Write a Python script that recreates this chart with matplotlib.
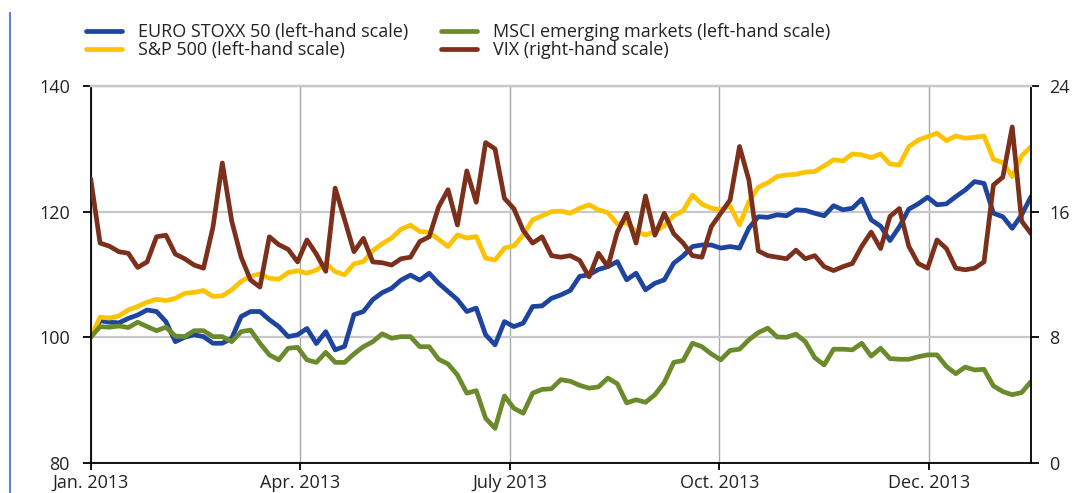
import numpy as np
import matplotlib.pyplot as plt
from matplotlib.lines import Line2D

plt.rcParams['font.family'] = ['Open Sans', 'DejaVu Sans']

# index values (1 Jan. 2013 = 100), sampled roughly every 3 trading days
euro_stoxx = [100.0, 102.65, 102.4, 102.3, 103.0, 103.55, 104.35, 104.1, 102.5, 99.3,
              100.0, 100.4, 100.1, 99.05, 99.05, 99.85, 103.3, 104.1, 104.1, 102.8,
              101.7, 100.1, 100.4, 101.4, 99.0, 100.9, 98.0, 98.55, 103.6, 104.1,
              106.0, 107.1, 107.8, 109.1, 109.9, 109.1, 110.2, 108.6, 107.3, 106.0,
              104.1, 104.65, 100.4, 98.8, 102.5, 101.7, 102.25, 104.9, 105.0, 106.2,
              106.75, 107.45, 109.7, 109.95, 110.8, 111.25, 112.05, 109.15, 110.2, 107.55,
              108.6, 109.15, 111.8, 112.95, 114.45, 114.7, 114.7, 114.2, 114.45, 114.2,
              117.4, 119.2, 119.1, 119.5, 119.35, 120.3, 120.2, 119.75, 119.35, 120.95,
              120.3, 120.55, 122.0, 118.7, 117.7, 115.4, 117.6, 120.4, 121.25, 122.3,
              121.1, 121.25, 122.4, 123.45, 124.8, 124.5, 119.75, 119.2, 117.35, 119.5,
              122.4]
sp500 = [100.0, 103.2, 103.05, 103.4, 104.35, 104.9, 105.6, 106.05, 105.85, 106.2,
         107.0, 107.15, 107.45, 106.5, 106.6, 107.55, 108.9, 109.7, 110.1, 109.4,
         109.25, 110.3, 110.6, 110.2, 110.7, 111.8, 110.45, 109.95, 111.7, 112.05,
         113.8, 114.9, 115.8, 117.2, 117.85, 116.85, 116.7, 115.6, 114.45, 116.3,
         115.8, 116.05, 112.6, 112.3, 114.2, 114.55, 116.3, 118.7, 119.35, 120.0,
         120.1, 119.75, 120.55, 121.1, 120.3, 119.85, 118.05, 118.25, 116.85, 116.3,
         116.85, 117.75, 119.35, 120.15, 122.65, 121.2, 120.55, 120.3, 120.9, 117.9,
         121.6, 123.9, 124.6, 125.6, 125.85, 125.95, 126.3, 126.4, 127.3, 128.25,
         128.1, 129.2, 129.05, 128.6, 129.2, 127.6, 127.45, 130.35, 131.4, 131.95,
         132.5, 131.3, 132.05, 131.7, 131.85, 132.05, 128.35, 127.8, 125.6, 128.9,
         130.35]
msci_em = [100.0, 101.7, 101.6, 101.8, 101.55, 102.4, 101.7, 101.05, 101.6, 100.2,
           100.1, 101.05, 101.05, 100.1, 100.1, 99.3, 100.9, 101.15, 99.05, 97.2,
           96.4, 98.25, 98.4, 96.4, 96.0, 97.6, 96.0, 96.0, 97.35, 98.5,
           99.3, 100.55, 99.85, 100.1, 100.1, 98.5, 98.5, 96.5, 95.75, 94.0,
           91.1, 91.5, 87.1, 85.5, 90.65, 88.7, 87.9, 91.1, 91.7, 91.8,
           93.25, 93.0, 92.35, 91.9, 92.1, 93.5, 92.6, 89.55, 90.05, 89.65,
           90.85, 92.8, 96.0, 96.3, 99.05, 98.5, 97.35, 96.4, 97.9, 98.1,
           99.6, 100.75, 101.45, 100.05, 100.0, 100.5, 99.3, 96.75, 95.6, 98.1,
           98.1, 98.0, 99.05, 97.0, 98.25, 96.6, 96.5, 96.5, 96.9, 97.2,
           97.2, 95.35, 94.2, 95.25, 94.8, 94.9, 92.25, 91.35, 90.85, 91.2,
           92.95]
vix = [18.1, 14.0, 13.8, 13.45, 13.35, 12.45, 12.8, 14.4, 14.5, 13.3,
       13.0, 12.6, 12.4, 15.0, 19.1, 15.4, 13.1, 11.65, 11.2, 14.4,
       13.9, 13.6, 12.8, 14.2, 13.3, 12.2, 17.5, 15.5, 13.45, 14.3,
       12.8, 12.75, 12.6, 13.0, 13.1, 14.1, 14.4, 16.3, 17.4, 15.15,
       18.6, 16.6, 20.4, 20.0, 16.85, 16.2, 14.8, 14.0, 14.4, 13.2,
       13.1, 13.2, 12.9, 11.85, 13.35, 12.5, 14.7, 15.9, 14.0, 17.0,
       14.5, 15.9, 14.6, 14.0, 13.2, 13.1, 15.05, 15.9, 16.75, 20.15,
       18.0, 13.5, 13.2, 13.1, 13.0, 13.55, 13.0, 13.2, 12.5, 12.25,
       12.5, 12.7, 13.8, 14.7, 13.65, 15.7, 16.2, 13.8, 12.7, 12.4,
       14.2, 13.65, 12.4, 12.3, 12.4, 12.8, 17.7, 18.2, 21.4, 15.4,
       14.6]

month_labels = ['Jan. 2013', 'Apr. 2013', 'July 2013', 'Oct. 2013', 'Dec. 2013']

c_blue = '#1d45a0'
c_yellow = '#fdc300'
c_green = '#6b8a2b'
c_brown = '#7c2f1b'
txt = '#222222'

fig = plt.figure(figsize=(10.82, 4.93), dpi=100)
ax = fig.add_axes([0.0838, 0.0611, 0.8691, 0.7643])
ax2 = ax.twinx()

x = np.arange(len(euro_stoxx))
kw = dict(lw=3.4, solid_joinstyle='round', solid_capstyle='round')
l1, = ax.plot(x, euro_stoxx, color=c_blue, **kw)
l2, = ax.plot(x, sp500, color=c_yellow, **kw)
l3, = ax.plot(x, msci_em, color=c_green, **kw)
l4, = ax2.plot(x, vix, color=c_brown, **kw)

ax.set_xlim(0, len(x) - 1)
ax.set_ylim(80, 140)
ax2.set_ylim(0, 24)
ax.set_yticks([80, 100, 120, 140])
ax2.set_yticks([0, 8, 16, 24])
ax.set_xticks(np.arange(len(month_labels)) * 22.29)
ax.set_xticklabels(month_labels)

ax.yaxis.grid(True, color='#c8c8c8', lw=1.6)
ax.xaxis.grid(True, color='#a8a8a8', lw=1.0)
ax.set_axisbelow(True)

for a in (ax, ax2):
    for s in ('left', 'bottom', 'right'):
        a.spines[s].set_color('black')
        a.spines[s].set_linewidth(1.3)
    a.spines['top'].set_color('#c8c8c8')
    a.spines['top'].set_linewidth(1.6)
ax.spines['right'].set_visible(False)
ax2.spines['left'].set_visible(False)
ax2.spines['bottom'].set_visible(False)

ax.tick_params(axis='y', direction='out', length=6, width=1.3, pad=9,
               labelsize=13, labelcolor=txt)
ax.tick_params(axis='x', direction='out', length=5, width=1.3, pad=3,
               labelsize=13, labelcolor=txt)
ax2.tick_params(axis='y', direction='out', length=6, width=1.3, pad=7,
                labelsize=13, labelcolor=txt)

fig.legend([l1, l2, l3, l4],
           ['EURO STOXX 50 (left-hand scale)', 'S&P 500 (left-hand scale)',
            'MSCI emerging markets (left-hand scale)', 'VIX (right-hand scale)'],
           ncol=2, loc='upper left', bbox_to_anchor=(86 / 1082, 1 - 23 / 493),
           frameon=False, fontsize=13, handlelength=2.0, handletextpad=0.9,
           columnspacing=1.8, labelspacing=0.02, borderpad=0, borderaxespad=0,
           labelcolor=txt)

# thin blue rule at the left edge of the page
fig.add_artist(Line2D([10 / 1082, 10 / 1082], [0, 1 - 13 / 493],
                      transform=fig.transFigure, color='#5f83c4', lw=1.5))

fig.savefig('out.png', dpi=100)
